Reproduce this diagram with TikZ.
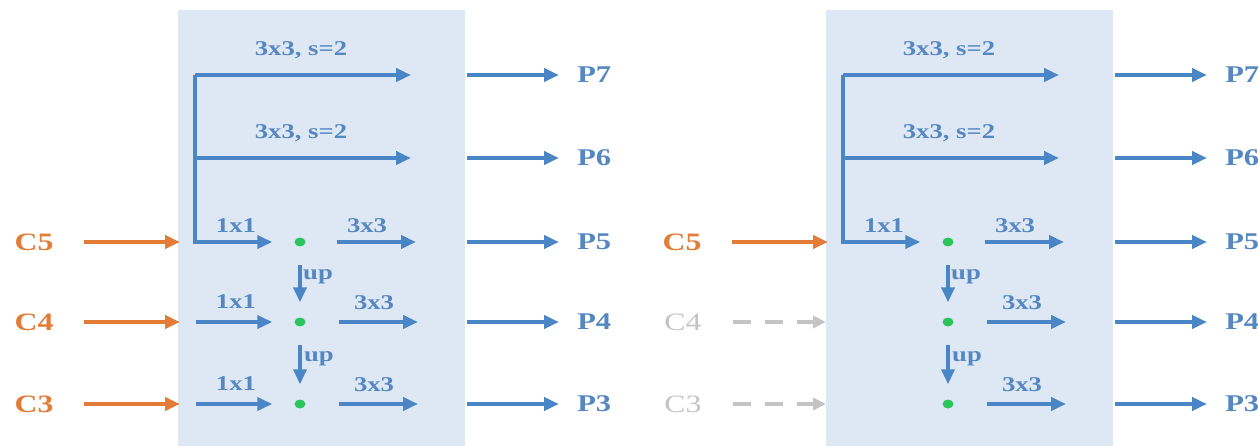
\documentclass[tikz,border=0pt]{standalone}
\usepackage{fontspec}
\setmainfont{Liberation Serif}
\usetikzlibrary{arrows.meta,shapes.geometric}
\definecolor{bblue}{HTML}{4A86C5}
\definecolor{tblue}{HTML}{5587C2}
\definecolor{oorange}{HTML}{E27C37}
\definecolor{ggreen}{HTML}{2CC45C}
\definecolor{panelbg}{HTML}{DEE8F5}
\definecolor{ggray}{HTML}{C4C4C4}
\tikzset{
  tip/.style={-{Triangle[length=15pt,width=13pt]}},
  barr/.style={draw=bblue,line width=4pt,tip},
  oarr/.style={draw=oorange,line width=4pt,tip},
  garr/.style={draw=ggray,line width=4pt,dash pattern=on 18pt off 14pt,-{Triangle[length=13pt,width=12pt]}},
  dot/.style={ellipse,fill=ggreen,inner sep=0pt,minimum width=11pt,minimum height=9pt},
  wide/.style={xscale=1.27,transform shape,inner sep=0pt},
  lab/.style={wide,text=tblue,font=\bfseries\fontsize{21}{21}\selectfont},
  plab/.style={wide,text=tblue,font=\bfseries\fontsize{24}{24}\selectfont},
  clab/.style={wide,font=\bfseries\fontsize{25}{25}\selectfont},
}
\begin{document}
\begin{tikzpicture}[x=1pt,y=-1pt]
\useasboundingbox (0,0) rectangle (1258,446);
\fill[white] (0,0) rectangle (1258,446);
\foreach \p/\dx in {L/0,R/648}{
\begin{scope}[xshift=\dx]
  \fill[panelbg] (178,10) rectangle (465,446);
  % dots
  \node[dot] (\p d5) at (300,242) {};
  \node[dot] (\p d4) at (300,322) {};
  \node[dot] (\p d3) at (300,404) {};
  % trunk coordinates
  \coordinate (\p t7) at (195,75);
  \coordinate (\p t6) at (195,158);
  \coordinate (\p j) at (195,242);
  \coordinate (\p e7) at (411,75);
  \coordinate (\p e6) at (411,158);
  \coordinate (\p e5) at (416,242);
  \coordinate (\p e4) at (418,322);
  \coordinate (\p e3) at (418,404);
  % output arrows
  \coordinate (\p o7) at (467,75);
  \coordinate (\p o6) at (467,158);
  \coordinate (\p o5) at (467,242);
  \coordinate (\p o4) at (467,322);
  \coordinate (\p o3) at (467,404);
  \node[plab,anchor=west] (\p P7) at (577,75) {P7};
  \node[plab,anchor=west] (\p P6) at (577,158) {P6};
  \node[plab,anchor=west] (\p P5) at (577,242) {P5};
  \node[plab,anchor=west] (\p P4) at (577,322) {P4};
  \node[plab,anchor=west] (\p P3) at (577,404) {P3};
  \foreach \k in {7,6,5,4,3}{
    \draw[barr,shorten >=18pt] (\p o\k) -- (\p P\k.west);
  }
  % trunk and stride-2 branches
  \draw[barr,shorten >=22pt] (\p t7) -- (\p j) -- (\p d5);
  \draw[barr] (\p t7) -- (\p e7);
  \draw[barr] (\p t6) -- (\p e6);
  \node[lab] (\p s7) at (301,50) {3x3, s=2};
  \node[lab] (\p s6) at (301,133) {3x3, s=2};
  \node[lab] (\p a5) at (236,226) {1x1};
  % 3x3 branches
  \draw[barr,shorten <=31pt] (\p d5) -- (\p e5);
  \draw[barr,shorten <=33pt] (\p d4) -- (\p e4);
  \draw[barr,shorten <=33pt] (\p d3) -- (\p e3);
  \node[lab] (\p b5) at (367,226) {3x3};
  \node[lab] (\p b4) at (374,303) {3x3};
  \node[lab] (\p b3) at (374,385) {3x3};
  % upsampling
  \draw[barr,shorten <=18pt,shorten >=15pt] (\p d5) -- (\p d4);
  \draw[barr,shorten <=18pt,shorten >=15pt] (\p d4) -- (\p d3);
  \node[lab] (\p u4) at (318,277) {up};
  \node[lab] (\p u3) at (319,359) {up};
  % C5 input
  \node[clab,text=oorange] (\p C5) at (34,242) {C5};
  \coordinate (\p i5) at (84,242);
  \coordinate (\p k5) at (180,242);
  \draw[oarr] (\p i5) -- (\p k5);
\end{scope}
}
% left panel: C4, C3 laterals
\node[clab,text=oorange] (LC4) at (34,322) {C4};
\node[clab,text=oorange] (LC3) at (34,404) {C3};
\coordinate (Li4) at (84,322);
\coordinate (Lk4) at (180,322);
\coordinate (Li3) at (84,404);
\coordinate (Lk3) at (180,404);
\draw[oarr] (Li4) -- (Lk4);
\draw[oarr] (Li3) -- (Lk3);
\coordinate (Ls4) at (196,322);
\coordinate (Ls3) at (196,404);
\draw[barr,shorten >=22pt] (Ls4) -- (Ld4);
\draw[barr,shorten >=22pt] (Ls3) -- (Ld3);
\node[lab] (La4) at (236,302) {1x1};
\node[lab] (La3) at (236,384) {1x1};
% right panel: missing C4, C3 (dashed gray)
\node[clab,text=ggray,font=\fontsize{25}{25}\selectfont] (RC4) at (683,322) {C4};
\node[clab,text=ggray,font=\fontsize{25}{25}\selectfont] (RC3) at (683,404) {C3};
\coordinate (Ri4) at (733,322);
\coordinate (Rk4) at (826,322);
\coordinate (Ri3) at (733,404);
\coordinate (Rk3) at (826,404);
\draw[garr] (Ri4) -- (Rk4);
\draw[garr] (Ri3) -- (Rk3);
\end{tikzpicture}
\end{document}
